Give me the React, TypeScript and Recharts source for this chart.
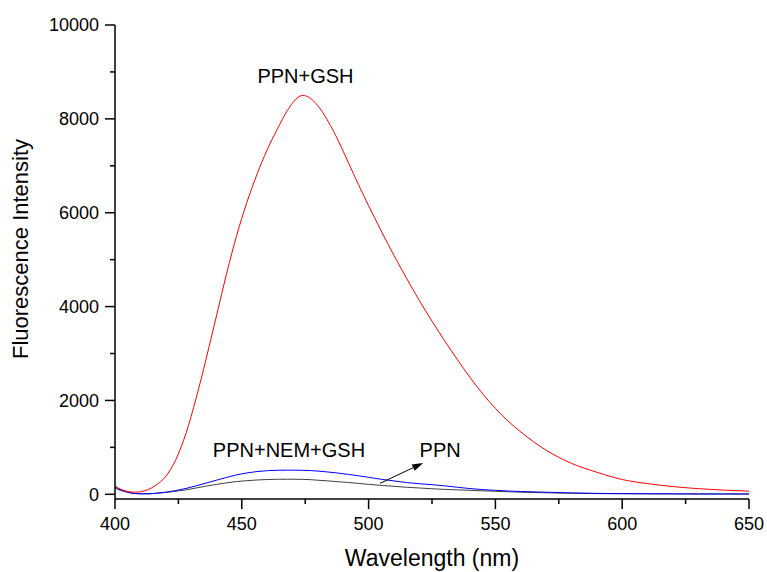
import { LineChart, Line, XAxis, YAxis, ReferenceDot, ReferenceLine, Label } from "recharts";

const WAVELENGTHS = [
  400, 402, 404, 406, 408, 410, 413, 416, 420, 424, 428, 432, 436, 440, 444, 448, 452, 456, 460, 464,
  468, 471, 474, 477, 480, 484, 488, 492, 496, 500, 505, 510, 515, 520, 525, 530, 535, 540, 545, 550,
  555, 560, 570, 580, 590, 600, 610, 620, 630, 640, 650,
];

const PPN_GSH = [
  175, 115, 75, 52, 45, 55, 100, 190, 380, 740, 1300, 2050, 2900, 3800, 4700, 5520, 6220, 6820, 7340, 7780,
  8180, 8400, 8500, 8440, 8280, 7950, 7540, 7070, 6600, 6150, 5610, 5090, 4600, 4130, 3690, 3270, 2870, 2490, 2140, 1830,
  1560, 1330, 940, 660, 470, 315, 228, 165, 120, 90, 68,
];

const PPN_NEM_GSH = [
  160, 100, 62, 32, 18, 12, 12, 22, 45, 80, 125, 180, 240, 300, 360, 415, 455, 485, 503, 512,
  515, 514, 511, 505, 495, 475, 452, 425, 395, 362, 320, 285, 250, 225, 205, 180, 150, 122, 100, 85,
  70, 60, 45, 30, 20, 15, 12, 10, 8, 8, 8,
];

const PPN = [
  130, 85, 55, 28, 15, 10, 10, 20, 40, 65, 95, 135, 175, 210, 245, 272, 290, 305, 315, 320,
  322, 321, 318, 312, 300, 285, 268, 252, 232, 212, 190, 170, 150, 135, 118, 105, 95, 85, 74, 65,
  55, 45, 32, 22, 15, 12, 10, 8, 6, 5, 5,
];

const X_TICKS = [400, 425, 450, 475, 500, 525, 550, 575, 600, 625, 650];
const Y_TICKS = [0, 1000, 2000, 3000, 4000, 5000, 6000, 7000, 8000, 9000, 10000];

const data = WAVELENGTHS.map((w, i) => ({
  w,
  gsh: PPN_GSH[i],
  nem: PPN_NEM_GSH[i],
  ppn: PPN[i],
}));

const FONT = "'Liberation Sans', Arial, sans-serif";

const XTick = ({ x, y, payload }: any) => {
  const major = payload.value % 50 === 0;
  return (
    <g>
      <line x1={x} y1={y} x2={x} y2={y + (major ? 10 : 5)} stroke="#000" strokeWidth={1.5} />
      {major && (
        <text x={x} y={y + 31} textAnchor="middle" fontSize={18} fill="#000" fontFamily={FONT}>
          {payload.value}
        </text>
      )}
    </g>
  );
};

const YTick = ({ x, y, payload }: any) => {
  const major = payload.value % 2000 === 0;
  return (
    <g>
      <line x1={x - (major ? 10 : 5)} y1={y} x2={x} y2={y} stroke="#000" strokeWidth={1.5} />
      {major && (
        <text x={x - 16} y={y + 6.4} textAnchor="end" fontSize={18} fill="#000" fontFamily={FONT}>
          {payload.value}
        </text>
      )}
    </g>
  );
};

const annotation = (text: string) => ({ viewBox }: any) => (
  <text
    x={viewBox.x + viewBox.width / 2}
    y={viewBox.y + viewBox.height / 2}
    textAnchor="middle"
    fontSize={20}
    fill="#000"
    fontFamily={FONT}
  >
    {text}
  </text>
);

const Arrow = ({ x1, y1, x2, y2 }: any) => {
  const ang = Math.atan2(y2 - y1, x2 - x1);
  const len = 11;
  const half = 3.5;
  const bx = x2 - len * Math.cos(ang);
  const by = y2 - len * Math.sin(ang);
  const px = -Math.sin(ang) * half;
  const py = Math.cos(ang) * half;
  return (
    <g>
      <line x1={x1} y1={y1} x2={bx} y2={by} stroke="#000" strokeWidth={1} />
      <polygon points={`${x2},${y2} ${bx + px},${by + py} ${bx - px},${by - py}`} fill="#000" />
    </g>
  );
};

export default function App() {
  return (
    <div style={{ position: "absolute", left: 0, top: 0 }}>
      <LineChart width={767} height={572} data={data} margin={{ top: 25, right: 18, bottom: 13, left: 0 }}>
        <XAxis
          dataKey="w"
          type="number"
          domain={[400, 650]}
          ticks={X_TICKS}
          interval={0}
          height={60}
          tickSize={0}
          tickMargin={0}
          tickLine={false}
          tick={<XTick />}
          axisLine={{ stroke: "#000", strokeWidth: 1.5 }}
        >
          <Label
            content={({ viewBox }: any) => (
              <text
                x={viewBox.x + viewBox.width / 2}
                y={viewBox.y + 67}
                textAnchor="middle"
                fontSize={23}
                fill="#000"
                fontFamily={FONT}
              >
                Wavelength (nm)
              </text>
            )}
          />
        </XAxis>
        <XAxis
          xAxisId="top"
          orientation="top"
          dataKey="w"
          type="number"
          domain={[400, 650]}
          height={0}
          tick={false}
          tickLine={false}
          axisLine={{ stroke: "#000", strokeWidth: 1.5 }}
        />
        <YAxis
          type="number"
          domain={[-100, 10000]}
          ticks={Y_TICKS}
          interval={0}
          width={115}
          tickSize={0}
          tickMargin={0}
          tickLine={false}
          tick={<YTick />}
          axisLine={{ stroke: "#000", strokeWidth: 1.5 }}
        >
          <Label
            content={({ viewBox }: any) => {
              const x = 27.5;
              const y = viewBox.y + viewBox.height / 2 - 13;
              return (
                <text
                  x={x}
                  y={y}
                  transform={`rotate(-90, ${x}, ${y})`}
                  textAnchor="middle"
                  fontSize={22}
                  fill="#000"
                  fontFamily={FONT}
                >
                  Fluorescence Intensity
                </text>
              );
            }}
          />
        </YAxis>
        <YAxis
          yAxisId="right"
          orientation="right"
          type="number"
          domain={[-100, 10000]}
          width={0}
          tick={false}
          tickLine={false}
          axisLine={{ stroke: "#000", strokeWidth: 1.5 }}
        />
        <Line dataKey="ppn" type="monotone" stroke="#404040" strokeWidth={1} dot={false} isAnimationActive={false} />
        <Line dataKey="nem" type="monotone" stroke="#0000ff" strokeWidth={1} dot={false} isAnimationActive={false} />
        <Line dataKey="gsh" type="monotone" stroke="#ff0000" strokeWidth={1} dot={false} isAnimationActive={false} />
        <ReferenceDot x={475.1} y={8758} r={0} stroke="none" fill="none" label={{ content: annotation("PPN+GSH") }} />
        <ReferenceDot x={468.6} y={801} r={0} stroke="none" fill="none" label={{ content: annotation("PPN+NEM+GSH") }} />
        <ReferenceDot x={528.2} y={801} r={0} stroke="none" fill="none" label={{ content: annotation("PPN") }} />
        <ReferenceLine
          segment={[
            { x: 504.5, y: 234 },
            { x: 521.5, y: 667 },
          ]}
          shape={<Arrow />}
        />
      </LineChart>
    </div>
  );
}
